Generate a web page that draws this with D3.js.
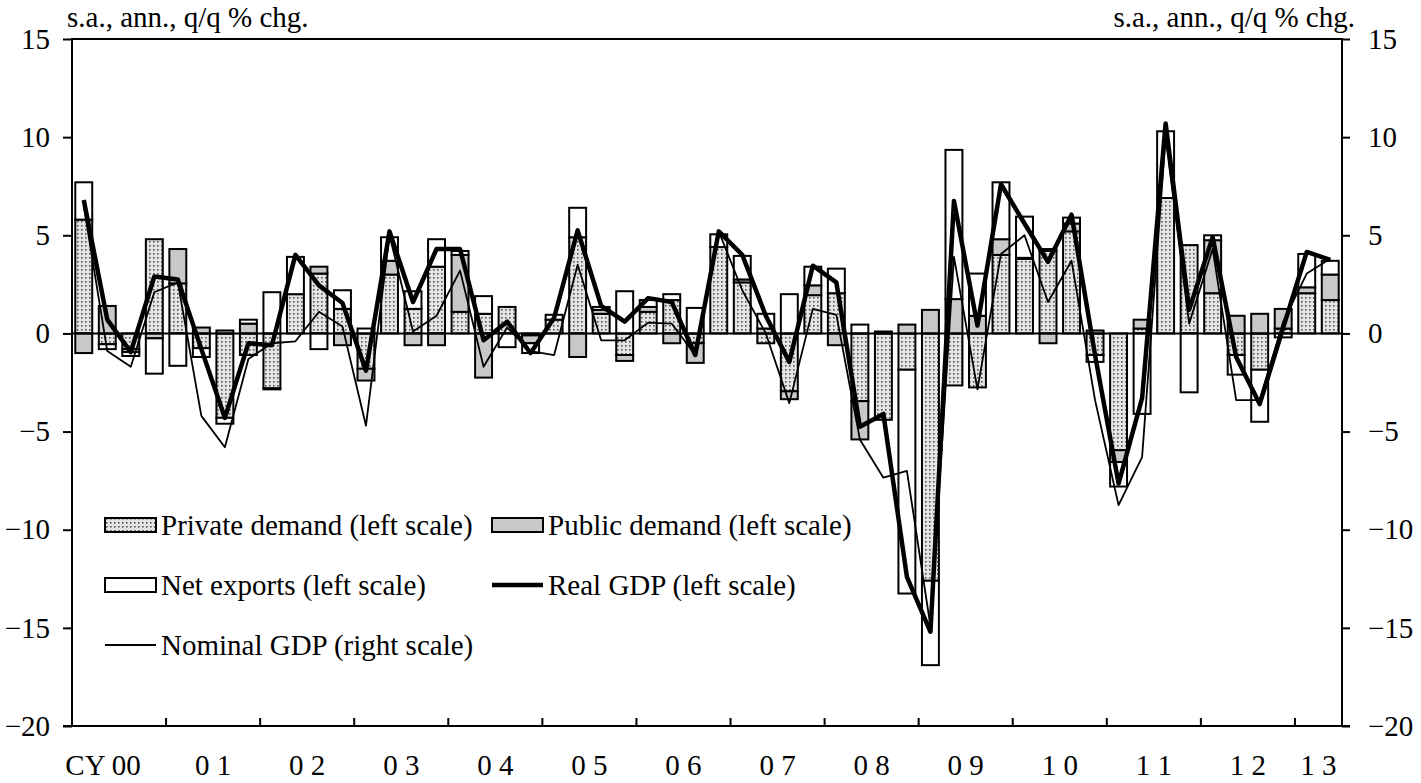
<!DOCTYPE html>
<html>
<head>
<meta charset="utf-8">
<script src="https://cdn.jsdelivr.net/npm/d3@7"></script>
<style>
    body { margin: 0; background: #fff; }
    svg text { font-family: "Liberation Serif", "Times New Roman", serif; fill: #000; }
</style>
</head>
<body>
<div id="chart"></div>
<script>

// quarters: 2000 Q1 .. 2013 Q2
const quarters = d3.range(54).map((i) => (2000 + Math.floor(i / 4)) + "Q" + (i % 4 + 1));

const yearLabels = ["CY 00", "0 1", "0 2", "0 3", "0 4", "0 5", "0 6", "0 7", "0 8", "0 9", "1 0", "1 1", "1 2", "1 3"];

const yTicks = [-20, -15, -10, -5, 0, 5, 10, 15];

// contributions to real GDP growth (left scale)
const privateDemand = [
    5.8, -0.55, -0.8, 4.8, 2.55, -0.75, -4.3, -1.1, -2.8, 2.0, 3.05, 1.25, -1.8, 3.0,
    1.25, 3.4, 1.1, 1.0, 1.35, -0.1, 0.7, 4.9, 1.0, -1.1, 1.1, 1.7, -0.5, 4.4,
    2.6, -0.5, -2.95, 1.95, 2.05, -3.45, -4.4, -1.85, -12.6, -2.65, -2.75, 4.0, 3.8, 4.2,
    5.2, -1.1, -5.95, 0.25, 6.9, 4.5, 2.05, -1.1, -1.85, 0.25, 2.05, 1.7
];

const publicDemand = [
    -1.0, 1.4, -0.15, -0.25, 1.75, 0.3, 0.15, 0.5, -0.05, 0.0, 0.35, -0.6, -0.6, 0.7,
    -0.6, -0.6, 2.9, -2.25, 0.0, -0.4, 0.0, -1.2, 0.2, -0.3, 0.25, -0.5, -1.0, 0.0,
    0.15, 0.25, -0.4, 0.5, -0.6, -1.95, 0.0, 0.45, 1.2, 1.75, 0.9, 0.8, 0.05, -0.5,
    0.4, 0.15, -0.6, 0.45, 0.0, 0.0, 2.7, 0.9, 1.0, 1.0, 0.3, 1.3
];

const netExports = [
    1.9, -0.25, -0.2, -1.8, -1.65, -0.45, -0.3, 0.2, 2.1, 1.9, -0.8, 0.95, 0.25, 1.2,
    0.9, 1.4, 0.2, 0.9, -0.7, -0.5, 0.25, 1.5, 0.15, 2.15, 0.35, 0.3, 1.3, 0.65,
    1.2, 0.75, 2.0, 0.95, 1.25, 0.45, 0.1, -11.4, -4.3, 7.6, 2.15, 2.9, 2.1, 0.1,
    0.3, -0.35, -1.25, -4.1, 3.4, -3.0, 0.25, -1.0, -2.65, -0.2, 1.7, 0.7
];

const realGDP = [
    6.8, 0.7, -0.95, 2.9, 2.75, -0.8, -4.3, -0.5, -0.6, 4.0, 2.45, 1.55, -1.9, 5.2,
    1.6, 4.3, 4.3, -0.35, 0.6, -1.0, 0.8, 5.25, 1.4, 0.6, 1.8, 1.6, -1.1, 5.2,
    4.0, 0.9, -1.45, 3.45, 2.6, -4.75, -4.1, -12.4, -15.2, 6.75, 0.4, 7.6, 5.6, 3.65,
    6.05, -1.1, -7.65, -3.3, 10.7, 1.2, 4.9, -1.2, -3.6, 0.3, 4.15, 3.75
];

// nominal GDP growth (right scale)
const nominalGDP = [
    6.5, -0.9, -1.7, 2.1, 2.6, -4.2, -5.8, -1.3, -0.5, -0.4, 1.1, 0.35, -4.7, 5.0,
    0.1, 0.9, 3.2, -1.7, 0.3, -0.9, -1.1, 3.5, -0.35, -0.35, 0.55, 0.5, -1.1, 5.2,
    2.2, 0.0, -3.55, 1.25, 0.95, -5.4, -7.35, -7.0, -14.9, 3.9, -2.85, 4.05, 5.0, 1.6,
    3.7, -3.4, -8.75, -6.3, 10.0, 0.5, 4.3, -3.4, -3.4, 0.6, 3.05, 3.8
];

const legendItems = [
    { label: "Private demand (left scale)", type: "private" },
    { label: "Public demand (left scale)", type: "public" },
    { label: "Net exports (left scale)", type: "net" },
    { label: "Real GDP (left scale)", type: "real" },
    { label: "Nominal GDP (right scale)", type: "nominal" }
];

class GdpChart
{
    constructor()
    {
        this.rows = quarters.map((q, i) => {
            return { q: q, private: privateDemand[i], public: publicDemand[i], net: netExports[i] };
        });
    }

    plot(divId)
    {
        let width = 1421, height = 783;
        let margin = {top: 39, right: 79, bottom: 57, left: 72};
        let fills = { private: "url(#dots)", public: "#c8c8c8", net: "#ffffff" };
        let fontSize = 29;

        let svg = d3.select("#" + divId).append("svg")
            .attr("width", width)
            .attr("height", height);

        // dotted fill for private demand
        let pattern = svg.append("defs").append("pattern")
            .attr("id", "dots")
            .attr("patternUnits", "userSpaceOnUse")
            .attr("width", 4)
            .attr("height", 4);
        pattern.append("rect").attr("width", 4).attr("height", 4).attr("fill", "#e4e4e4");
        pattern.append("rect").attr("x", 1).attr("y", 1).attr("width", 1.6).attr("height", 1.6).attr("fill", "#555");

        let xScale = d3.scaleBand()
            .domain(quarters)
            .range([margin.left, width - margin.right])
            .paddingInner(0.28)
            .paddingOuter(0.14);

        let yScale = d3.scaleLinear()
            .domain([-20, 15])
            .range([height - margin.bottom, margin.top]);

        let yRight = d3.scaleLinear()
            .domain([-20, 15])
            .range([height - margin.bottom, margin.top]);

        let step = xScale.step();
        let cx = (q) => xScale(q) + xScale.bandwidth() / 2;

        //Stacked bars, positives up and negatives down
        let series = d3.stack()
            .keys(["private", "public", "net"])
            .offset(d3.stackOffsetDiverging)(this.rows);

        svg.append("g").selectAll("g")
            .data(series)
            .join("g")
            .attr("fill", (s) => fills[s.key])
            .selectAll("rect")
            .data((s) => s)
            .join("rect")
            .attr("x", (d) => xScale(d.data.q))
            .attr("width", xScale.bandwidth())
            .attr("y", (d) => yScale(Math.max(d[0], d[1])))
            .attr("height", (d) => Math.abs(yScale(d[0]) - yScale(d[1])))
            .attr("stroke", "#000")
            .attr("stroke-width", 2);

        //Zero line
        svg.append("line")
            .attr("x1", margin.left).attr("x2", width - margin.right)
            .attr("y1", yScale(0)).attr("y2", yScale(0))
            .attr("stroke", "#000").attr("stroke-width", 2);

        //Nominal GDP, thin line
        svg.append("path")
            .datum(nominalGDP)
            .attr("fill", "none")
            .attr("stroke", "#000")
            .attr("stroke-width", 1.8)
            .attr("stroke-linejoin", "round")
            .attr("d", d3.line().x((d, i) => cx(quarters[i])).y((d) => yRight(d)));

        //Real GDP, thick line
        svg.append("path")
            .datum(realGDP)
            .attr("fill", "none")
            .attr("stroke", "#000")
            .attr("stroke-width", 4.5)
            .attr("stroke-linejoin", "round")
            .attr("d", d3.line().x((d, i) => cx(quarters[i])).y((d) => yScale(d)));

        //Frame
        svg.append("rect")
            .attr("x", margin.left).attr("y", margin.top)
            .attr("width", width - margin.left - margin.right)
            .attr("height", height - margin.top - margin.bottom)
            .attr("fill", "none")
            .attr("stroke", "#000")
            .attr("stroke-width", 2);

        //Left axis
        let left = svg.append("g")
            .attr("transform", "translate(" + margin.left + ",0)")
            .call(d3.axisLeft(yScale).tickValues(yTicks).tickSize(9).tickPadding(13).tickFormat(d3.format("d")));

        //Right axis
        let right = svg.append("g")
            .attr("transform", "translate(" + (width - margin.right) + ",0)")
            .call(d3.axisRight(yRight).tickValues(yTicks).tickSize(8).tickPadding(18).tickFormat(d3.format("d")));

        [left, right].forEach((g) => {
            g.select(".domain").remove();
            g.selectAll(".tick line").attr("stroke", "#000").attr("stroke-width", 2);
            g.selectAll(".tick text")
                .attr("font-size", fontSize)
                .attr("fill", "#000");
        });

        //X axis: inward ticks at year boundaries, labels centred on years
        let yearStarts = quarters.filter((q, i) => i > 0 && q.endsWith("Q1"));
        svg.append("g").selectAll("line")
            .data(yearStarts)
            .join("line")
            .attr("x1", (q) => xScale(q) - step * 0.14)
            .attr("x2", (q) => xScale(q) - step * 0.14)
            .attr("y1", height - margin.bottom)
            .attr("y2", height - margin.bottom - 8)
            .attr("stroke", "#000")
            .attr("stroke-width", 2);

        svg.append("line")
            .attr("x1", margin.left - 9).attr("x2", width - margin.right + 8)
            .attr("y1", height - margin.bottom).attr("y2", height - margin.bottom)
            .attr("stroke", "#000").attr("stroke-width", 2);

        svg.append("g").selectAll("text")
            .data(yearLabels)
            .join("text")
            .attr("x", (d, i) => {
                let qs = quarters.filter((q) => +q.slice(0, 4) === 2000 + i);
                let mid = (cx(qs[0]) + cx(qs[qs.length - 1])) / 2;
                return i === 0 ? mid - 16 : mid;
            })
            .attr("y", height - 8)
            .attr("text-anchor", "middle")
            .attr("font-size", fontSize)
            .text((d) => d);

        //Unit labels
        svg.append("text")
            .attr("x", margin.left - 5)
            .attr("y", 27)
            .attr("font-size", fontSize)
            .text("s.a., ann., q/q % chg.");

        svg.append("text")
            .attr("x", width - margin.right + 13)
            .attr("y", 27)
            .attr("text-anchor", "end")
            .attr("font-size", fontSize)
            .text("s.a., ann., q/q % chg.");

        //Legend
        let legend = svg.append("g").selectAll("g")
            .data(legendItems)
            .join("g")
            .attr("transform", (d, i) => "translate(" + (i % 2 === 0 ? 105 : 492) + "," + (525 + 60 * Math.floor(i / 2)) + ")");

        legend.filter((d) => d.type === "private" || d.type === "public" || d.type === "net")
            .append("rect")
            .attr("x", 0).attr("y", -7)
            .attr("width", 51).attr("height", 14)
            .attr("fill", (d) => fills[d.type])
            .attr("stroke", "#000")
            .attr("stroke-width", 2);

        legend.filter((d) => d.type === "real" || d.type === "nominal")
            .append("line")
            .attr("x1", 0).attr("x2", 51)
            .attr("y1", 0).attr("y2", 0)
            .attr("stroke", "#000")
            .attr("stroke-width", (d) => d.type === "real" ? 4.5 : 1.8);

        legend.append("text")
            .attr("x", 56)
            .attr("y", 10)
            .attr("font-size", fontSize)
            .text((d) => d.label);
    }
}

let chart = new GdpChart();
chart.plot("chart");

</script>
</body>
</html>
